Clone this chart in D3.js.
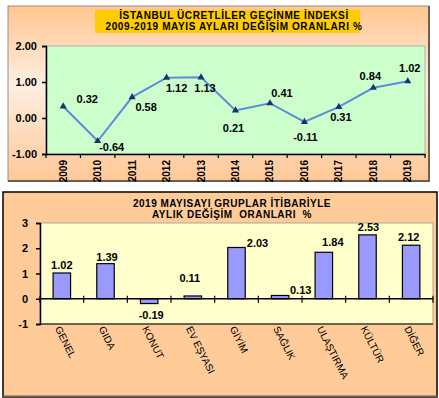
<!DOCTYPE html>
<html>
<head>
<meta charset="utf-8">
<script src="https://cdn.jsdelivr.net/npm/d3@7"></script>
<style>
  html, body { margin: 0; padding: 0; background: #ffffff; }
  svg { display: block; font-family: "Liberation Sans", Arial, sans-serif; }
</style>
</head>
<body>
<svg id="chart" width="439" height="398"></svg>
<script>
// ---------- DATA ----------
const years = ["2009","2010","2011","2012","2013","2014","2015","2016","2017","2018","2019"];
const yearValues = [0.32, -0.64, 0.58, 1.12, 1.13, 0.21, 0.41, -0.11, 0.31, 0.84, 1.02];
const lineTicks = [-1, 0, 1, 2];

const groups = ["GENEL","GIDA","KONUT","EV EŞYASI","GİYİM","SAĞLIK","ULAŞTIRMA","KÜLTÜR","DİĞER"];
const groupValues = [1.02, 1.39, -0.19, 0.11, 2.03, 0.13, 1.84, 2.53, 2.12];
const barTicks = [-1, 0, 1, 2, 3];

const title1 = ["İSTANBUL ÜCRETLİLER GEÇİNME İNDEKSİ", "2009-2019 MAYIS AYLARI DEĞİŞİM ORANLARI %"];
const title2 = ["2019 MAYISAYI GRUPLAR İTİBARİYLE", "AYLIK DEĞİŞİM  ORANLARI  %"];

// label offsets (layout only)
const lineLabelOffsets = [[24,-7],[14,6],[14,10],[10,10],[4,11],[-2,18],[12,-10],[1,15],[2,10],[-3,-12],[2,-13]];
const barLabelOffsets = [[0,-8],[1.5,-7],[2,12],[-3,-18],[21,-4.5],[20.5,-5.5],[9,-10.5],[1,-8],[-2.5,-8.5]];

const hyph = f => d => f(d).replace("\u2212","-");

const svg = d3.select("#chart");
const defs = svg.append("defs");
const grad = defs.append("linearGradient").attr("id","peachGrad").attr("x1",0).attr("y1",0).attr("x2",0).attr("y2",1);
grad.append("stop").attr("offset","0%").attr("stop-color","#FFC690");
grad.append("stop").attr("offset","45%").attr("stop-color","#FFEEE2");
grad.append("stop").attr("offset","100%").attr("stop-color","#FFC896");

// ---------- TOP PANEL ----------
const topG = svg.append("g");
topG.append("rect").attr("x",8).attr("y",6).attr("width",421).attr("height",175)
  .attr("fill","url(#peachGrad)").attr("stroke","#9a8c80").attr("stroke-width",1);
topG.append("line").attr("x1",429).attr("x2",429).attr("y1",6).attr("y2",181).attr("stroke","#6b5f55").attr("stroke-width",2);
topG.append("line").attr("x1",8).attr("x2",430).attr("y1",181).attr("y2",181).attr("stroke","#6b5f55").attr("stroke-width",2);

topG.append("rect").attr("x",95).attr("y",10).attr("width",265).attr("height",23).attr("fill","#FFCC00");
topG.selectAll("text.t1").data(title1).join("text").attr("class","t1")
  .attr("x",234).attr("y",(d,i)=>19 + i*11)
  .attr("text-anchor","middle").attr("font-size","10px").attr("font-weight","bold")
  .attr("letter-spacing","0.6px").text(d=>d);

const p1 = {l:46, r:425, t:46, b:154};
topG.append("rect").attr("x",p1.l).attr("y",p1.t).attr("width",p1.r-p1.l).attr("height",p1.b-p1.t)
  .attr("fill","#CCFFCC").attr("stroke","#a8b8a8").attr("stroke-width",1);

const x1 = d3.scaleBand().domain(years).range([p1.l,p1.r]);
const y1 = d3.scaleLinear().domain([-1,2]).range([p1.b,p1.t]);

const yAx1 = topG.append("g").attr("transform",`translate(${p1.l},0)`)
  .call(d3.axisLeft(y1).tickValues(lineTicks).tickFormat(hyph(d3.format(".2f"))).tickSize(4).tickPadding(5));
yAx1.select(".domain").attr("stroke","#000").attr("stroke-width",1.5);
yAx1.selectAll(".tick line").attr("stroke","#000").attr("stroke-width",1.5);
yAx1.selectAll(".tick text").attr("font-size","11px").attr("font-weight","bold").attr("fill","#000")
  .attr("font-family","Liberation Sans, Arial, sans-serif");

const xAx1 = topG.append("g").attr("transform",`translate(0,${p1.b})`)
  .call(d3.axisBottom(x1).tickSize(0).tickPadding(0));
xAx1.select(".domain").attr("stroke","#000").attr("stroke-width",1.5);
xAx1.selectAll(".tick text")
  .attr("transform","translate(0,6) rotate(-90)")
  .attr("text-anchor","end").attr("x",0).attr("y",0).attr("dy","0.35em")
  .attr("font-size","10px").attr("font-weight","bold").attr("fill","#000")
  .attr("font-family","Liberation Sans, Arial, sans-serif");
const bounds1 = years.map(d=>x1(d)).concat([x1.range()[1]]);
topG.selectAll("line.b1").data(bounds1).join("line").attr("class","b1")
  .attr("x1",d=>d).attr("x2",d=>d).attr("y1",p1.b).attr("y2",p1.b+4).attr("stroke","#000").attr("stroke-width",1.2);

const cx1 = d => x1(d) + x1.bandwidth()/2;
const line = d3.line().x((d,i)=>cx1(years[i])).y(d=>y1(d));
topG.append("path").datum(yearValues).attr("d",line).attr("fill","none")
  .attr("stroke","#5B8ED8").attr("stroke-width",2);
topG.selectAll("path.m").data(yearValues).join("path").attr("class","m")
  .attr("d",d3.symbol(d3.symbolTriangle,22))
  .attr("transform",(d,i)=>`translate(${cx1(years[i])},${y1(d)})`)
  .attr("fill","#1F3070");
topG.selectAll("text.vl").data(yearValues).join("text").attr("class","vl")
  .attr("x",(d,i)=>cx1(years[i]) + lineLabelOffsets[i][0])
  .attr("y",(d,i)=>y1(d) + lineLabelOffsets[i][1])
  .attr("dy","0.35em").attr("text-anchor","middle")
  .attr("font-size","11px").attr("font-weight","bold").attr("fill","#000")
  .text(d=>d.toFixed(2));

// ---------- BOTTOM PANEL ----------
const botG = svg.append("g");
botG.append("rect").attr("x",3).attr("y",192).attr("width",434).attr("height",205)
  .attr("fill","#FFCC99").attr("stroke","#000").attr("stroke-width",1.5);
botG.append("line").attr("x1",3).attr("x2",437).attr("y1",396.5).attr("y2",396.5).attr("stroke","#6b5f55").attr("stroke-width",2);

botG.selectAll("text.t2").data(title2).join("text").attr("class","t2")
  .attr("x",232).attr("y",(d,i)=>207 + i*10.5)
  .attr("text-anchor","middle").attr("font-size","10px").attr("font-weight","bold")
  .attr("letter-spacing","0.5px").style("white-space","pre").text(d=>d);

const p2 = {l:40, r:433, t:223, b:324};
botG.append("rect").attr("x",p2.l).attr("y",p2.t).attr("width",p2.r-p2.l).attr("height",p2.b-p2.t)
  .attr("fill","#FFFFCC").attr("stroke","#aaa89a").attr("stroke-width",1);

const x2 = d3.scaleBand().domain(groups).range([p2.l,p2.r]).paddingInner(0.6).paddingOuter(0.3);
const y2 = d3.scaleLinear().domain([-1,3]).range([p2.b,p2.t]);
const bandX = d3.scaleBand().domain(groups).range([p2.l,p2.r]);

const yAx2 = botG.append("g").attr("transform",`translate(${p2.l},0)`)
  .call(d3.axisLeft(y2).tickValues(barTicks).tickFormat(hyph(d3.format("d"))).tickSize(4).tickPadding(8));
yAx2.select(".domain").attr("stroke","#000").attr("stroke-width",1.5);
yAx2.selectAll(".tick line").attr("stroke","#000").attr("stroke-width",1.5);
yAx2.selectAll(".tick text").attr("font-size","11px").attr("font-weight","bold").attr("fill","#000")
  .attr("font-family","Liberation Sans, Arial, sans-serif");

botG.selectAll("rect.bar").data(groupValues).join("rect").attr("class","bar")
  .attr("x",(d,i)=>x2(groups[i]))
  .attr("width",x2.bandwidth())
  .attr("y",d=>y2(Math.max(0,d)))
  .attr("height",d=>Math.abs(y2(d)-y2(0)))
  .attr("fill","#9999FF").attr("stroke","#000").attr("stroke-width",1.2);

botG.append("line").attr("x1",p2.l).attr("x2",p2.r).attr("y1",y2(0)).attr("y2",y2(0)).attr("stroke","#000").attr("stroke-width",1.5);
const bounds2 = groups.map(d=>bandX(d)).concat([bandX.range()[1]]);
botG.selectAll("line.b2").data(bounds2).join("line").attr("class","b2")
  .attr("x1",d=>d).attr("x2",d=>d).attr("y1",y2(0)-3).attr("y2",y2(0)+4).attr("stroke","#000").attr("stroke-width",1.2);
botG.append("line").attr("x1",p2.l).attr("x2",p2.r).attr("y1",p2.b).attr("y2",p2.b).attr("stroke","#000").attr("stroke-width",1.2);

const cx2 = d => bandX(d) + bandX.bandwidth()/2;
botG.selectAll("text.bl").data(groupValues).join("text").attr("class","bl")
  .attr("x",(d,i)=>cx2(groups[i]) + barLabelOffsets[i][0])
  .attr("y",(d,i)=>y2(d) + barLabelOffsets[i][1])
  .attr("dy","0.35em").attr("text-anchor","middle")
  .attr("font-size","11px").attr("font-weight","bold").attr("fill","#000")
  .text(d=>d.toFixed(2));

botG.selectAll("text.cat").data(groups).join("text").attr("class","cat")
  .attr("transform",d=>`translate(${cx2(d)-4},${p2.b+3}) rotate(63)`)
  .attr("dy","0.35em").attr("text-anchor","start")
  .attr("font-size","10px").attr("fill","#000")
  .text(d=>d);
</script>
</body>
</html>
